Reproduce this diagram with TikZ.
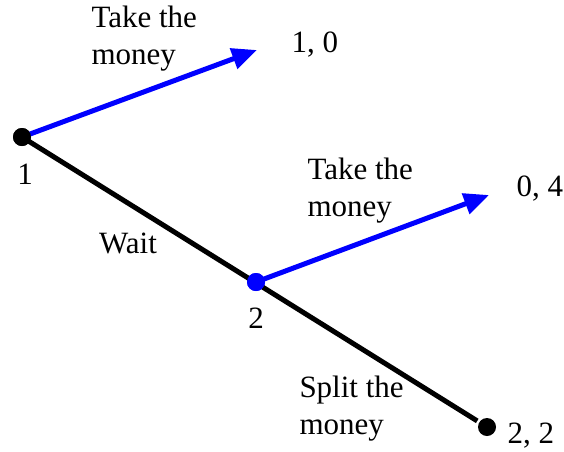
\documentclass[tikz,border=0pt]{standalone}
\usepackage{fontspec}
\setmainfont{Liberation Serif}
\newfontfamily\treefont{Liberation Serif}
\usetikzlibrary{arrows.meta,positioning}

\begin{document}
\begin{tikzpicture}[x=1pt,y=-1pt,line width=5pt,
    every node/.style={font=\treefont\fontsize{31}{37}\selectfont,inner sep=0pt},
    dot/.style={circle,fill,minimum size=18pt,inner sep=0pt},
    move/.style={blue,-{Triangle[length=25pt,width=21pt]}}]
    \useasboundingbox (0,0) rectangle (564,451);
    \node [dot] (n1) at (22,137) {};
    \node [dot,blue] (n2) at (256,282) {};
    \node [dot] (n3) at (487,427) {};
    \coordinate (t1) at (257,50);
    \coordinate (t2) at (489,195);
    \node (l1) at (25,174) {1};
    \node (l2) at (256,318) {2};
    \node [anchor=west] (p1) at (289,45) {1, 0};
    \node [anchor=west] (p2) at (514,189) {0, 4};
    \node [anchor=west] (p3) at (505,436) {2, 2};
    \draw (n1.center) -- (n3);
    \draw [move] (n1.center) -- (t1);
    \draw [move] (n2.center) -- (t2);
    \node [dot,blue] at (n2) {};
    \node [dot] at (n1) {};
    \node [anchor=west,align=left] (a1) at (89,39) {Take the\\money};
    \node [anchor=west,align=left] (a2) at (305,191) {Take the\\money};
    \node (a3) at (128,243) {Wait};
    \node [anchor=west,align=left] (a4) at (297,409) {Split the\\money};
\end{tikzpicture}
\end{document}
